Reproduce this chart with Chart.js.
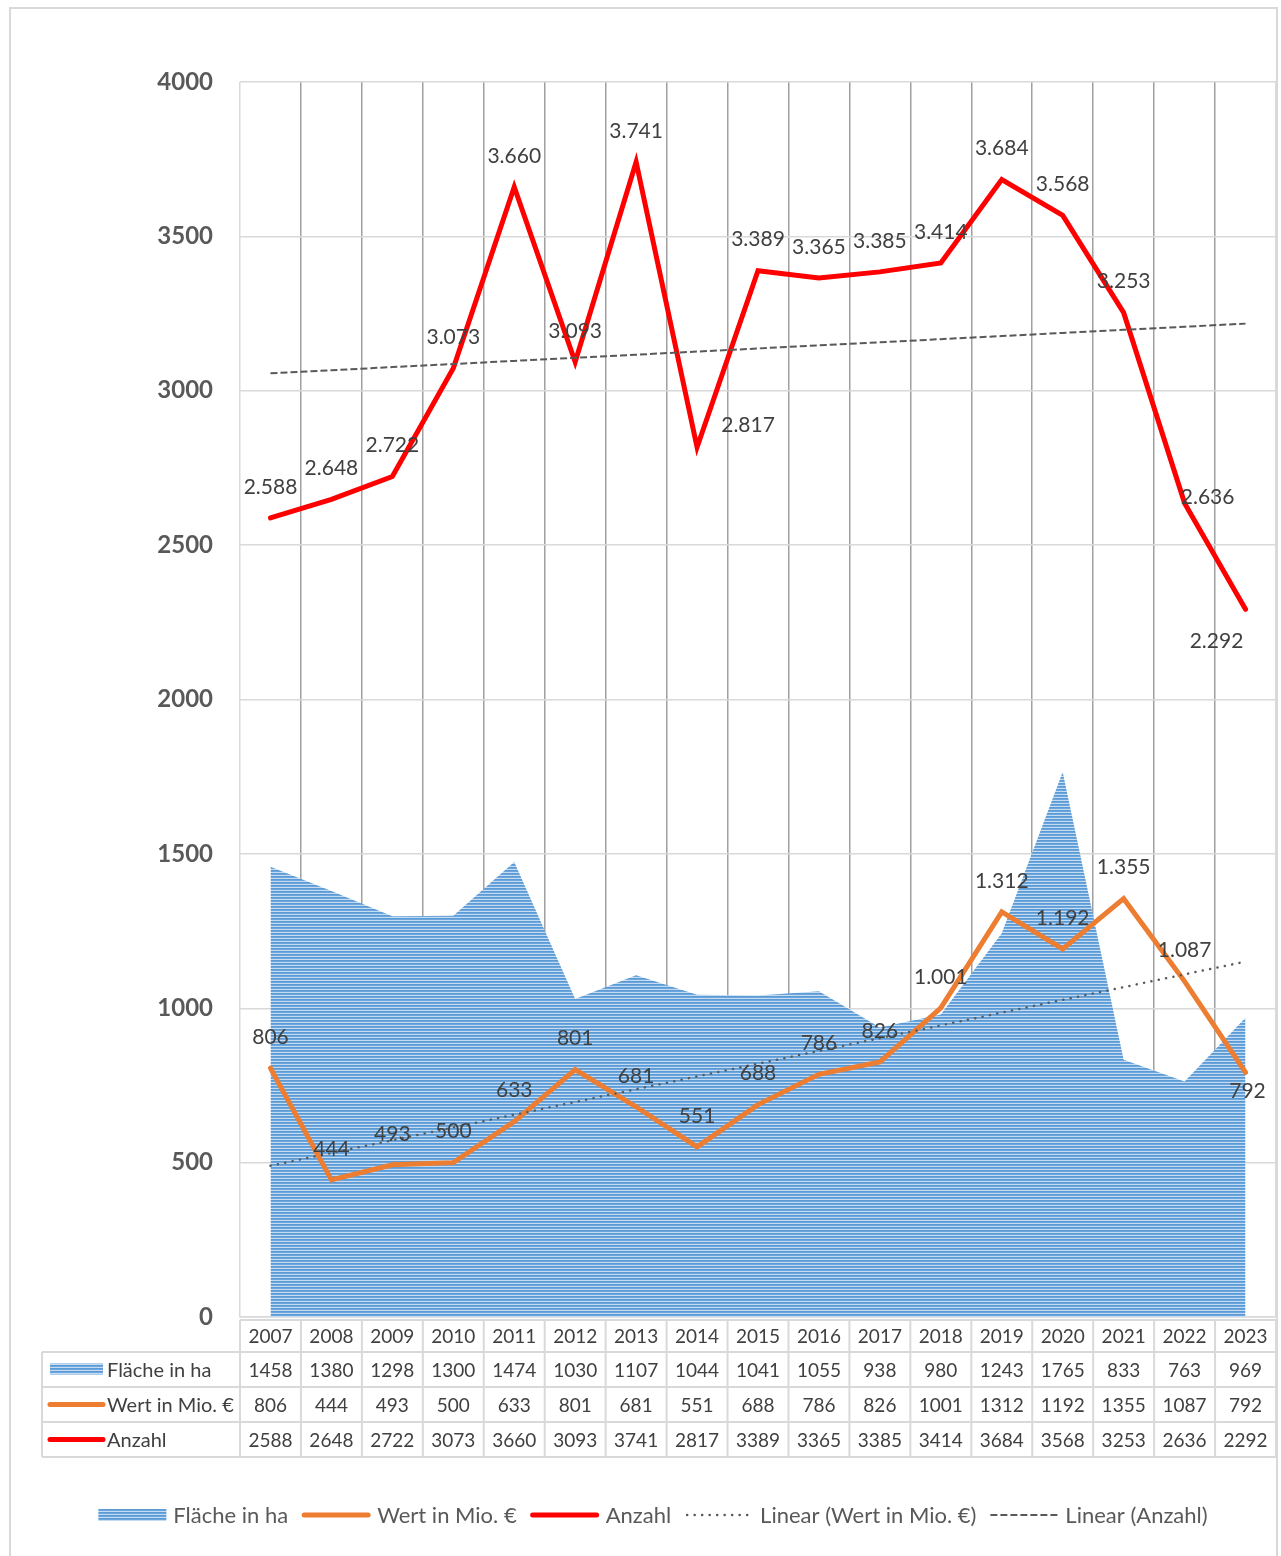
<!DOCTYPE html>
<html><head><meta charset="utf-8">
<script src="https://cdn.jsdelivr.net/npm/chart.js@4.4.0/dist/chart.umd.min.js"></script>
<style>html,body{margin:0;padding:0;background:#fff}#wrap{position:relative;width:1281px;height:1556px}</style>
</head><body><div id="wrap"><canvas id="c" width="1281" height="1556"></canvas></div>
<script>
// ---- data ----
const years   = ['2007','2008','2009','2010','2011','2012','2013','2014','2015','2016','2017','2018','2019','2020','2021','2022','2023'];
const flaeche = [1458,1380,1298,1300,1474,1030,1107,1044,1041,1055,938,980,1243,1765,833,763,969];
const wert    = [806,444,493,500,633,801,681,551,688,786,826,1001,1312,1192,1355,1087,792];
const anzahl  = [2588,2648,2722,3073,3660,3093,3741,2817,3389,3365,3385,3414,3684,3568,3253,2636,2292];
const yTicks  = [0,500,1000,1500,2000,2500,3000,3500,4000];
const seriesNames = ['Fläche in ha','Wert in Mio. €','Anzahl','Linear (Wert in Mio. €)','Linear (Anzahl)'];

// least-squares trend lines (Excel "Linear" trendline)
function linearTrend(vals){
  const n = vals.length; let sx=0, sy=0, sxx=0, sxy=0;
  vals.forEach((v,i)=>{sx+=i;sy+=v;sxx+=i*i;sxy+=i*v;});
  const b=(n*sxy-sx*sy)/(n*sxx-sx*sx), a=(sy-b*sx)/n;
  return vals.map((v,i)=>a+b*i);
}
const wertTrend = linearTrend(wert);
const anzahlTrend = linearTrend(anzahl);

// ---- style ----
const FONT = 'Lato, "Open Sans", sans-serif';
const C_ORANGE='#ed7d31', C_RED='#ff0000', C_TREND='#595959';
const labelOffsets = {
  anzahl: {7:[51,-22], 15:[23,-6], 16:[-29,32]},
  wert: {16:[2,19]}
};

function makePattern(ctx){
  const p=document.createElement('canvas'); p.width=4; p.height=3;
  const g=p.getContext('2d');
  g.fillStyle='#5b9bd5'; g.fillRect(0,0,4,1);
  g.fillStyle='#6da6dc'; g.fillRect(0,1,4,1);
  g.fillStyle='#c4dbf1'; g.fillRect(0,2,4,1);
  return ctx.createPattern(p,'repeat');
}
const cv=document.getElementById('c');
const pattern=makePattern(cv.getContext('2d'));

const extrasPlugin={
  id:'extras',
  afterDatasetsDraw(chart){
    const ctx=chart.ctx;
    ctx.save();
    ctx.font='21px '+FONT; ctx.fillStyle='#404040'; ctx.textAlign='center'; ctx.textBaseline='middle';
    [[2,anzahl,'anzahl'],[1,wert,'wert']].forEach(([di,vals,key])=>{
      const meta=chart.getDatasetMeta(di);
      meta.data.forEach((pt,i)=>{
        const off=labelOffsets[key][i]||[0,-31];
        ctx.fillText(vals[i].toLocaleString('de-DE'), pt.x+off[0], pt.y+off[1]);
      });
    });
    ctx.restore();
  },
  afterDraw(chart){
    const ctx=chart.ctx, xs=chart.scales.x, area=chart.chartArea;
    const colW=(area.right-area.left)/years.length;
    ctx.save();
    // table
    const rowsY=[1320,1352,1387,1422,1457];
    const tableLeft=42;
    ctx.strokeStyle='#d9d9d9'; ctx.lineWidth=2;
    ctx.beginPath();
    ctx.moveTo(area.left,rowsY[0]); ctx.lineTo(area.right,rowsY[0]);
    for(let r=1;r<rowsY.length;r++){ctx.moveTo(tableLeft,rowsY[r]); ctx.lineTo(area.right,rowsY[r]);}
    ctx.moveTo(tableLeft,rowsY[1]); ctx.lineTo(tableLeft,rowsY[4]);
    for(let i=0;i<=years.length;i++){
      const x=area.left+i*colW;
      ctx.moveTo(x,rowsY[0]); ctx.lineTo(x,rowsY[4]);
    }
    ctx.stroke();
    ctx.font='19px '+FONT; ctx.fillStyle='#404040'; ctx.textAlign='center'; ctx.textBaseline='middle';
    const rowsData=[years,flaeche,wert,anzahl];
    rowsData.forEach((vals,r)=>{
      const cy=(rowsY[r]+rowsY[r+1])/2+1;
      vals.forEach((v,i)=>{ctx.fillText(String(v), xs.getPixelForValue(i), cy);});
    });
    // row headers
    ctx.textAlign='left'; ctx.font='20px '+FONT;
    const keys=[
      {name:seriesNames[0],type:'area'},
      {name:seriesNames[1],type:'line',color:C_ORANGE},
      {name:seriesNames[2],type:'line',color:C_RED}
    ];
    keys.forEach((k,j)=>{
      const cy=(rowsY[j+1]+rowsY[j+2])/2;
      if(k.type==='area'){ctx.fillStyle=pattern; ctx.fillRect(50,cy-6,53,11);}
      else{ctx.strokeStyle=k.color; ctx.lineWidth=5; ctx.lineCap='round'; ctx.beginPath(); ctx.moveTo(50,cy); ctx.lineTo(103,cy); ctx.stroke();}
      ctx.fillStyle='#404040'; ctx.fillText(k.name,107,cy+1);
    });
    // legend
    ctx.font='22px '+FONT; ctx.textBaseline='middle';
    const ly=1515, sw=68;
    const items=[
      {name:seriesNames[0],type:'area'},
      {name:seriesNames[1],type:'line',color:C_ORANGE},
      {name:seriesNames[2],type:'line',color:C_RED},
      {name:seriesNames[3],type:'dot'},
      {name:seriesNames[4],type:'dash'}
    ];
    let total=0;
    items.forEach(it=>{it.tw=ctx.measureText(it.name).width; total+=sw+7+it.tw;});
    total+=14*(items.length-1);
    let x=653-total/2;
    items.forEach(it=>{
      if(it.type==='area'){ctx.fillStyle=pattern; ctx.fillRect(x,ly-6,sw,12);}
      else if(it.type==='line'){ctx.strokeStyle=it.color; ctx.lineWidth=5; ctx.lineCap='round'; ctx.setLineDash([]); ctx.beginPath(); ctx.moveTo(x+2,ly); ctx.lineTo(x+sw-2,ly); ctx.stroke();}
      else if(it.type==='dot'){ctx.strokeStyle=C_TREND; ctx.lineWidth=2.5; ctx.lineCap='round'; ctx.setLineDash([0.1,7.4]); ctx.beginPath(); ctx.moveTo(x+2,ly); ctx.lineTo(x+sw,ly); ctx.stroke();}
      else {ctx.strokeStyle=C_TREND; ctx.lineWidth=2; ctx.lineCap='butt'; ctx.setLineDash([7,3]); ctx.beginPath(); ctx.moveTo(x,ly); ctx.lineTo(x+sw,ly); ctx.stroke();}
      ctx.setLineDash([]);
      ctx.fillStyle='#595959'; ctx.fillText(it.name,x+sw+7,ly+1);
      x+=sw+7+it.tw+14;
    });
    // outer border
    ctx.strokeStyle='#d9d9d9'; ctx.lineWidth=2;
    ctx.strokeRect(10,8,1267,1560);
    ctx.restore();
  }
};

new Chart(cv,{
  type:'line',
  data:{
    labels:years,
    datasets:[
      {label:seriesNames[0],data:flaeche,fill:'origin',backgroundColor:pattern,borderWidth:0,pointRadius:0,tension:0,order:5},
      {label:seriesNames[1],data:wert,borderColor:C_ORANGE,borderWidth:5,borderCapStyle:'round',pointRadius:0,fill:false,order:3},
      {label:seriesNames[2],data:anzahl,borderColor:C_RED,borderWidth:5,borderCapStyle:'round',pointRadius:0,fill:false,order:2},
      {label:seriesNames[3],data:wertTrend,borderColor:C_TREND,borderWidth:2.5,borderDash:[0.1,7.4],borderCapStyle:'round',pointRadius:0,fill:false,order:1},
      {label:seriesNames[4],data:anzahlTrend,borderColor:C_TREND,borderWidth:2,borderDash:[7,3],pointRadius:0,fill:false,order:1}
    ]
  },
  options:{
    responsive:false, animation:false, devicePixelRatio:1,
    layout:{padding:{top:82,right:5,bottom:239,left:0}},
    plugins:{legend:{display:false},tooltip:{enabled:false}},
    scales:{
      x:{type:'category',offset:true,
        grid:{offset:true,drawTicks:false,lineWidth:1.5,
          color:c=>(c.type!=='tick'||c.index===0)?'#d9d9d9':'#a0a0a0'},
        border:{display:true,color:'#d9d9d9',width:1.5},
        ticks:{display:false},
        afterFit:s=>{s.height=0;}
      },
      y:{min:0,max:4000,
        afterBuildTicks:s=>{s.ticks=yTicks.map(v=>({value:v}));},
        ticks:{font:{family:FONT,size:24,weight:'bold'},color:'#595959',padding:27,callback:v=>String(v)},
        grid:{color:'#d9d9d9',lineWidth:1.5,drawTicks:false},
        border:{display:false},
        afterFit:s=>{s.width=240;}
      }
    }
  },
  plugins:[extrasPlugin]
});
</script></body></html>
